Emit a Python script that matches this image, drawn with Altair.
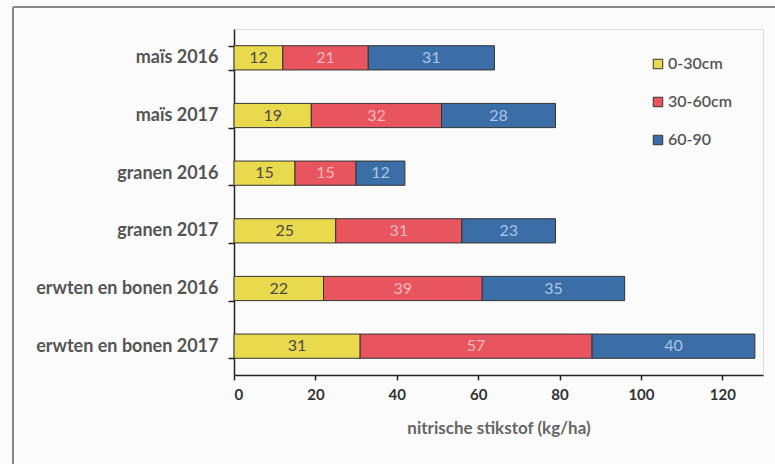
import altair as alt
import pandas as pd

categories = ["maïs 2016", "maïs 2017", "granen 2016", "granen 2017",
              "erwten en bonen 2016", "erwten en bonen 2017"]
series = ["0-30cm", "30-60cm", "60-90"]
v_0_30 = [12, 19, 15, 25, 22, 31]
v_30_60 = [21, 32, 15, 31, 39, 57]
v_60_90 = [31, 28, 12, 23, 35, 40]

fill_colors = ["#e9d94c", "#e9555f", "#3b6ea7"]
text_colors = ["#4a4a4a", "#f6b9b9", "#a9c6e4"]

rows = []
for i, s in enumerate(series):
    vals = [v_0_30, v_30_60, v_60_90][i]
    for c, v in zip(categories, vals):
        rows.append({"cat": c, "series": s, "order": i, "value": v,
                     "tcolor": text_colors[i]})
df = pd.DataFrame(rows)

base = alt.Chart(df).transform_stack(
    stack="value", groupby=["cat"], as_=["x0", "x1"],
    sort=[alt.SortField("order")]
).transform_calculate(mid="(datum.x0 + datum.x1) / 2")

y_enc = alt.Y("cat:N", sort=categories, title=None,
              scale=alt.Scale(paddingInner=0.58, paddingOuter=0.29),
              axis=alt.Axis(tickBand="extent", labelFont="Lato", labelFontSize=18,
                            labelFontWeight="bold", labelColor="#555555",
                            labelLimit=300,
                            labelPadding=10, tickSize=6, tickColor="#222222",
                            domainColor="#222222", domainWidth=1.5, tickWidth=1.5))

bars = base.mark_bar(stroke="#333333", strokeWidth=1).encode(
    x=alt.X("x0:Q", title="nitrische stikstof (kg/ha)",
            scale=alt.Scale(domain=[0, 130], nice=False),
            axis=alt.Axis(values=[0, 20, 40, 60, 80, 100, 120], labelFont="Lato",
                          labelFontSize=15, labelFontWeight="bold", labelColor="#333333",
                          titleFont="Lato", titleFontSize=17, titleFontWeight="bold",
                          titleColor="#666666", titlePadding=18, tickSize=5,
                          tickColor="#222222", domainColor="#222222", domainWidth=1.5,
                          tickWidth=1.5, grid=False, labelPadding=7)),
    x2="x1:Q",
    y=y_enc,
    color=alt.Color("series:N", sort=series,
                    scale=alt.Scale(domain=series, range=fill_colors),
                    legend=alt.Legend(title=None, orient="none", legendX=416, legendY=27,
                                      symbolType="square", symbolSize=90,
                                      symbolStrokeColor="#333333", symbolStrokeWidth=1,
                                      labelFont="Lato", labelFontSize=16,
                                      labelFontWeight=600,
                                      labelColor="#555555", rowPadding=22,
                                      labelOffset=2)),
    order=alt.Order("order:Q"),
)

labels = base.mark_text(font="Lato", fontSize=16, baseline="middle", align="center").encode(
    x=alt.X("mid:Q"),
    y=alt.Y("cat:N", sort=categories),
    text=alt.Text("value:Q"),
    color=alt.Color("tcolor:N", scale=None),
)

left_border = alt.Chart(df).mark_rule(color="#888888", strokeWidth=1.5).encode(
    x=alt.value(-221), y=alt.value(-22), y2=alt.value(435))
top_border = alt.Chart(df).mark_rule(color="#888888", strokeWidth=1.5).encode(
    x=alt.value(-221), x2=alt.value(541), y=alt.value(-22))

chart = alt.layer(left_border, top_border, bars, labels).properties(
    width=529, height=346,
    autosize=alt.AutoSizeParams(type="none"),
    padding={"left": 234, "top": 29, "right": 12, "bottom": 89},
).configure_view(stroke="#222222", strokeWidth=1.5).configure(background="#fbfbfb")

chart.save("out.html", embed_options={"renderer": "svg", "actions": False})
